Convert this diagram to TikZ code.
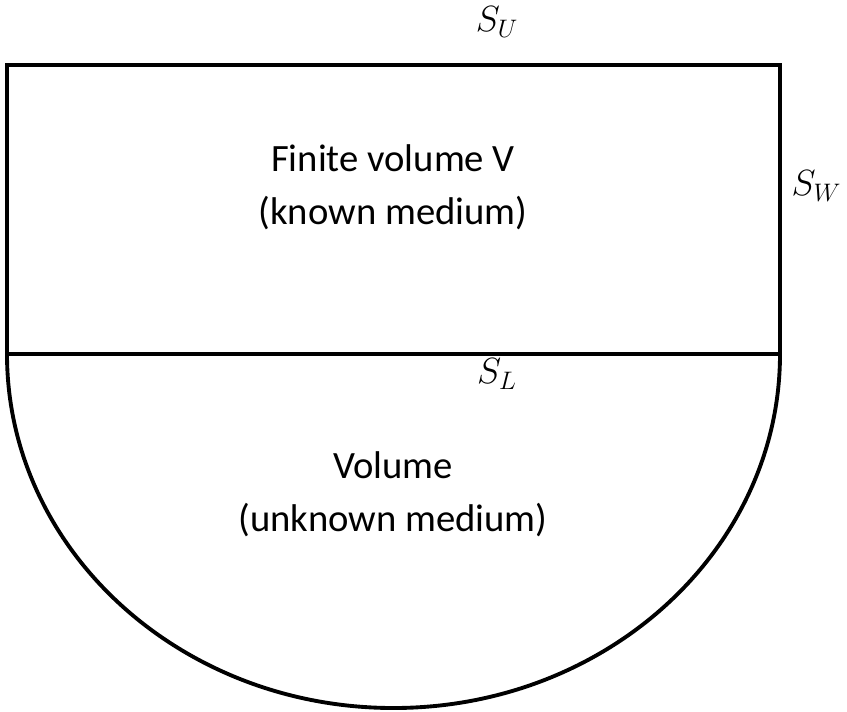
\documentclass[tikz,border=0pt]{standalone}
\usepackage{fontspec}
\setmainfont{Carlito}
\begin{document}
\begin{tikzpicture}[x=0.02cm,y=-0.02cm,line width=2.2pt,
  label/.style={font=\fontsize{22}{30}\selectfont, align=center},
  surf/.style={font=\fontsize{21}{24}\selectfont, inner sep=1pt}]
\useasboundingbox (0,0) rectangle (847,711);
\coordinate (tl) at (7,65);
\coordinate (tr) at (780,65);
\coordinate (ml) at (7,354);
\coordinate (mr) at (780,354);
\draw (ml) -- (tl) -- (tr) -- (mr);
\draw (ml) -- (mr);
\draw (mr) arc[start angle=0, end angle=180, x radius=386.5, y radius=354];
\node[label] (known) at (393,187) {Finite volume V\\(known medium)};
\node[label] (unknown) at (393,494) {Volume\\(unknown medium)};
\node[surf] (su) at (497,22) {$S_U$};
\node[surf, anchor=east] (sw) at (845,186) {$S_W$};
\node[surf] (sl) at (497,374) {$S_L$};
\end{tikzpicture}
\end{document}
